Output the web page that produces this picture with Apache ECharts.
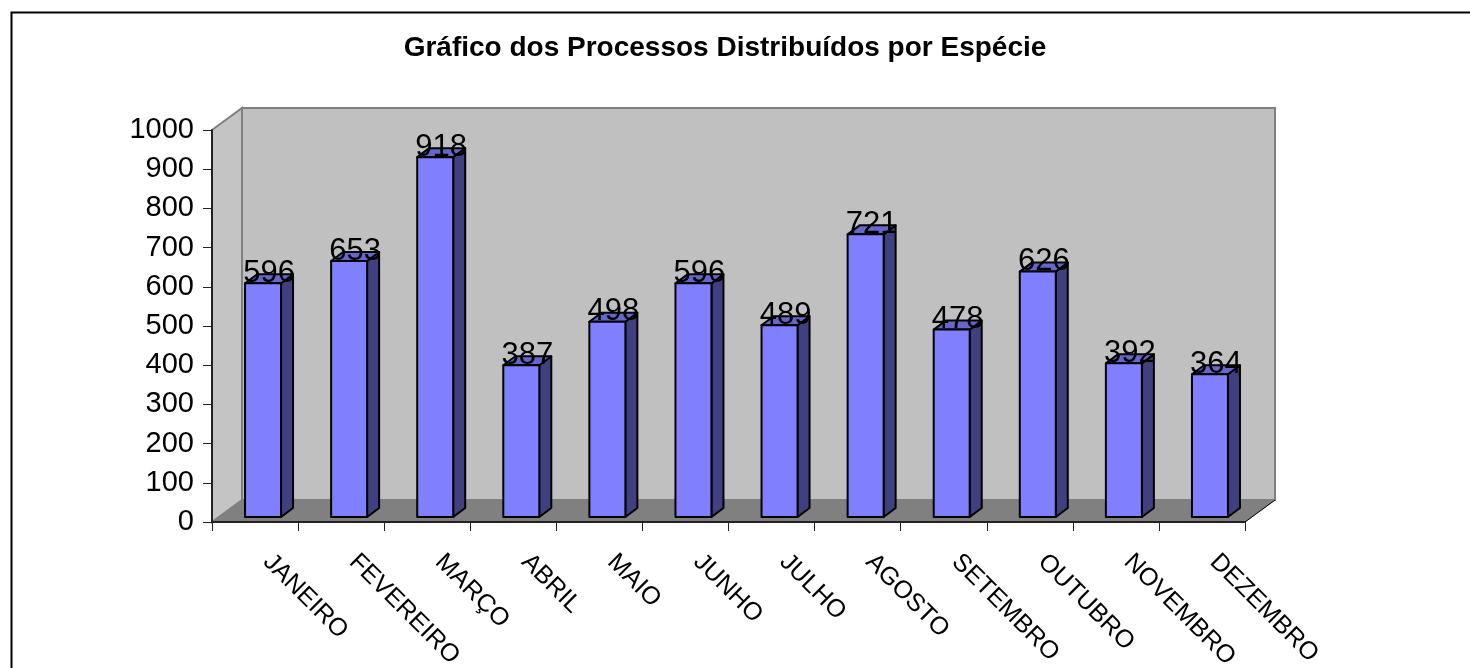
<!DOCTYPE html>
<html>
<head>
<meta charset="utf-8">
<script src="https://cdn.jsdelivr.net/npm/echarts@6/dist/echarts.min.js"></script>
<style>
html,body{margin:0;padding:0;background:#fff;}
#chart{width:1470px;height:668px;}
</style>
</head>
<body>
<div id="chart"></div>
<script>
const titleText = 'Gráfico dos Processos Distribuídos por Espécie';
const categories = ['JANEIRO','FEVEREIRO','MARÇO','ABRIL','MAIO','JUNHO','JULHO','AGOSTO','SETEMBRO','OUTUBRO','NOVEMBRO','DEZEMBRO'];
const values = [596,653,918,387,498,596,489,721,478,626,392,364];
const yMin = 0, yMax = 1000, yStep = 100;

const FONT = '"Liberation Sans", Arial, sans-serif';
const WALL_DX = 30, WALL_DY = -22;   // depth of the 3D box
const BAR_DX = 12, BAR_DY = -9;      // depth of each bar
const BAR_OFF_X = 8, BAR_OFF_Y = -5; // bar position inside the box depth
const BAR_W = 36;

const chart = echarts.init(document.getElementById('chart'), null, {renderer:'canvas'});

function renderWalls(params, api) {
  const cs = params.coordSys;
  const x0 = cs.x, y0 = cs.y, x1 = cs.x + cs.width, y1 = cs.y + cs.height;
  const dx = WALL_DX, dy = WALL_DY;
  const edge = {stroke:'#808080', lineWidth:2};
  return {
    type:'group',
    children:[
      {type:'polygon', shape:{points:[[x0+dx,y0+dy],[x1+dx,y0+dy],[x1+dx,y1+dy],[x0+dx,y1+dy]]},
       style:Object.assign({fill:'#C0C0C0'}, edge)},
      {type:'polygon', shape:{points:[[x0,y0],[x0+dx,y0+dy],[x0+dx,y1+dy],[x0,y1]]},
       style:Object.assign({fill:'#C4C4C4'}, edge)},
      {type:'polygon', shape:{points:[[x0,y1],[x0+dx,y1+dy],[x1+dx,y1+dy],[x1,y1]]},
       style:{fill:'#808080', stroke:'#808080', lineWidth:1}},
      {type:'line', shape:{x1:x1, y1:y1, x2:x1+dx, y2:y1+dy}, style:{stroke:'#000', lineWidth:1}}
    ]
  };
}

function renderBar(params, api) {
  const i = api.value(0);
  const v = api.value(1);
  const top = api.coord([i, v]);
  const base = api.coord([i, 0]);
  const cx = top[0] + BAR_OFF_X;
  const yt = top[1] + BAR_OFF_Y;
  const yb = base[1] + BAR_OFF_Y;
  const xl = cx - BAR_W/2, xr = cx + BAR_W/2;
  const dx = BAR_DX, dy = BAR_DY;
  const ln = {stroke:'#000', lineWidth:2, lineJoin:'round'};
  return {
    type:'group',
    children:[
      {type:'polygon', shape:{points:[[xr,yt],[xr+dx,yt+dy],[xr+dx,yb+dy],[xr,yb]]},
       style:Object.assign({fill:'#404080'}, ln)},
      {type:'polygon', shape:{points:[[xl,yt],[xl+dx,yt+dy],[xr+dx,yt+dy],[xr,yt]]},
       style:Object.assign({fill:'#6666CC'}, ln)},
      {type:'rect', shape:{x:xl, y:yt, width:BAR_W, height:yb-yt},
       style:Object.assign({fill:'#8080FF'}, ln)},
      {type:'text', x:cx + dx/2, y:yt - 10, z2:10,
       style:{text:String(v), fill:'#000', font:'31px ' + FONT, align:'center', verticalAlign:'middle'}}
    ]
  };
}

const option = {
  animation:false,
  backgroundColor:'#fff',
  graphic:[
    {type:'rect', left:9, top:10, shape:{x:0,y:0,width:1480,height:700},
     style:{fill:'none', stroke:'#000', lineWidth:2}, z:100},
    {type:'text', x:725, y:48, style:{text:titleText, font:'bold 28px ' + FONT, fill:'#000', align:'center', verticalAlign:'middle'}}
  ],
  grid:{left:212, top:130, width:1033, height:392, containLabel:false, outerBoundsMode:'none'},
  xAxis:{
    type:'category', data:categories, z:10,
    axisLine:{show:true, lineStyle:{color:'#222', width:2}},
    axisTick:{show:true, alignWithLabel:false, length:9, lineStyle:{color:'#222', width:1}},
    axisLabel:{interval:0, rotate:-45, margin:24, color:'#000', fontSize:25, fontFamily:FONT,
               padding:[0,0,0,17]},
    splitLine:{show:false}
  },
  yAxis:{
    type:'value', min:yMin, max:yMax, interval:yStep, z:10,
    axisLine:{show:true, lineStyle:{color:'#222', width:2}},
    axisTick:{show:true, length:9, lineStyle:{color:'#222', width:1}},
    axisLabel:{margin:18, color:'#000', fontSize:29, fontFamily:FONT, formatter:v=>String(v)},
    splitLine:{show:false}
  },
  series:[
    {type:'custom', z:1, renderItem:renderWalls, data:[[0,0]], silent:true, clip:false},
    {type:'custom', z:5, renderItem:renderBar, clip:false,
     encode:{x:0, y:1},
     data:values.map((v,i)=>[i,v])}
  ]
};
chart.setOption(option);
</script>
</body>
</html>
